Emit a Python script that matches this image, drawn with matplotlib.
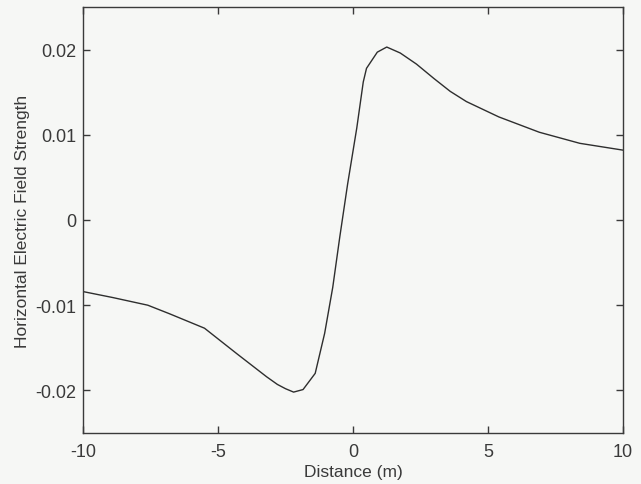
import matplotlib
matplotlib.use("Agg")
import matplotlib.pyplot as plt

distance = [-10, -8.9, -7.6, -6.8, -5.5, -4.3, -3.2, -2.8, -2.5, -2.2, -1.85, -1.4,
            -1.05, -0.75, -0.49, -0.2, 0.14, 0.38, 0.5, 0.9, 1.25, 1.75, 2.35, 3.0,
            3.6, 4.2, 5.4, 6.9, 8.4, 10]
field = [-0.0084, -0.0091, -0.0100, -0.0110, -0.0127, -0.0157, -0.0184, -0.0193,
         -0.0198, -0.0202, -0.0199, -0.0180, -0.0133, -0.0079, -0.0020, 0.0042,
         0.0108, 0.0162, 0.0178, 0.0197, 0.0203, 0.0196, 0.0183, 0.0166, 0.0151,
         0.0139, 0.0121, 0.0103, 0.0090, 0.0082]
xticks = [-10, -5, 0, 5, 10]
yticks = [-0.02, -0.01, 0, 0.01, 0.02]
yticklabels = ["-0.02", "-0.01", "0", "0.01", "0.02"]

bg = "#f6f7f5"
ink = "#3a3a3a"
plt.rcParams['font.family'] = ['Liberation Sans', 'DejaVu Sans']

fig = plt.figure(figsize=(6.41, 4.85), dpi=100, facecolor=bg)
ax = fig.add_axes([83/641, 1 - 434/485, (623-83)/641, (434-8)/485])
ax.set_facecolor(bg)
ax.plot(distance, field, color="#2e2e2e", lw=1.0)
ax.set_xlim(-10, 10)
ax.set_ylim(-0.025, 0.025)
ax.set_xticks(xticks)
ax.set_xticklabels([str(t) for t in xticks])
ax.set_yticks(yticks)
ax.set_yticklabels(yticklabels)
ax.tick_params(direction="in", length=5, width=1, colors=ink, labelsize=13,
               top=True, right=True)
ax.tick_params(axis="x", pad=7)
ax.tick_params(axis="y", pad=5)
for s in ax.spines.values():
    s.set_color(ink)
    s.set_linewidth(1.0)
ax.set_xlabel("Distance (m)", fontsize=12.5, color=ink, labelpad=3)
ax.set_ylabel("Horizontal Electric Field Strength", fontsize=12.5, color=ink, labelpad=4)

fig.savefig("out.png", dpi=100, facecolor=bg)
